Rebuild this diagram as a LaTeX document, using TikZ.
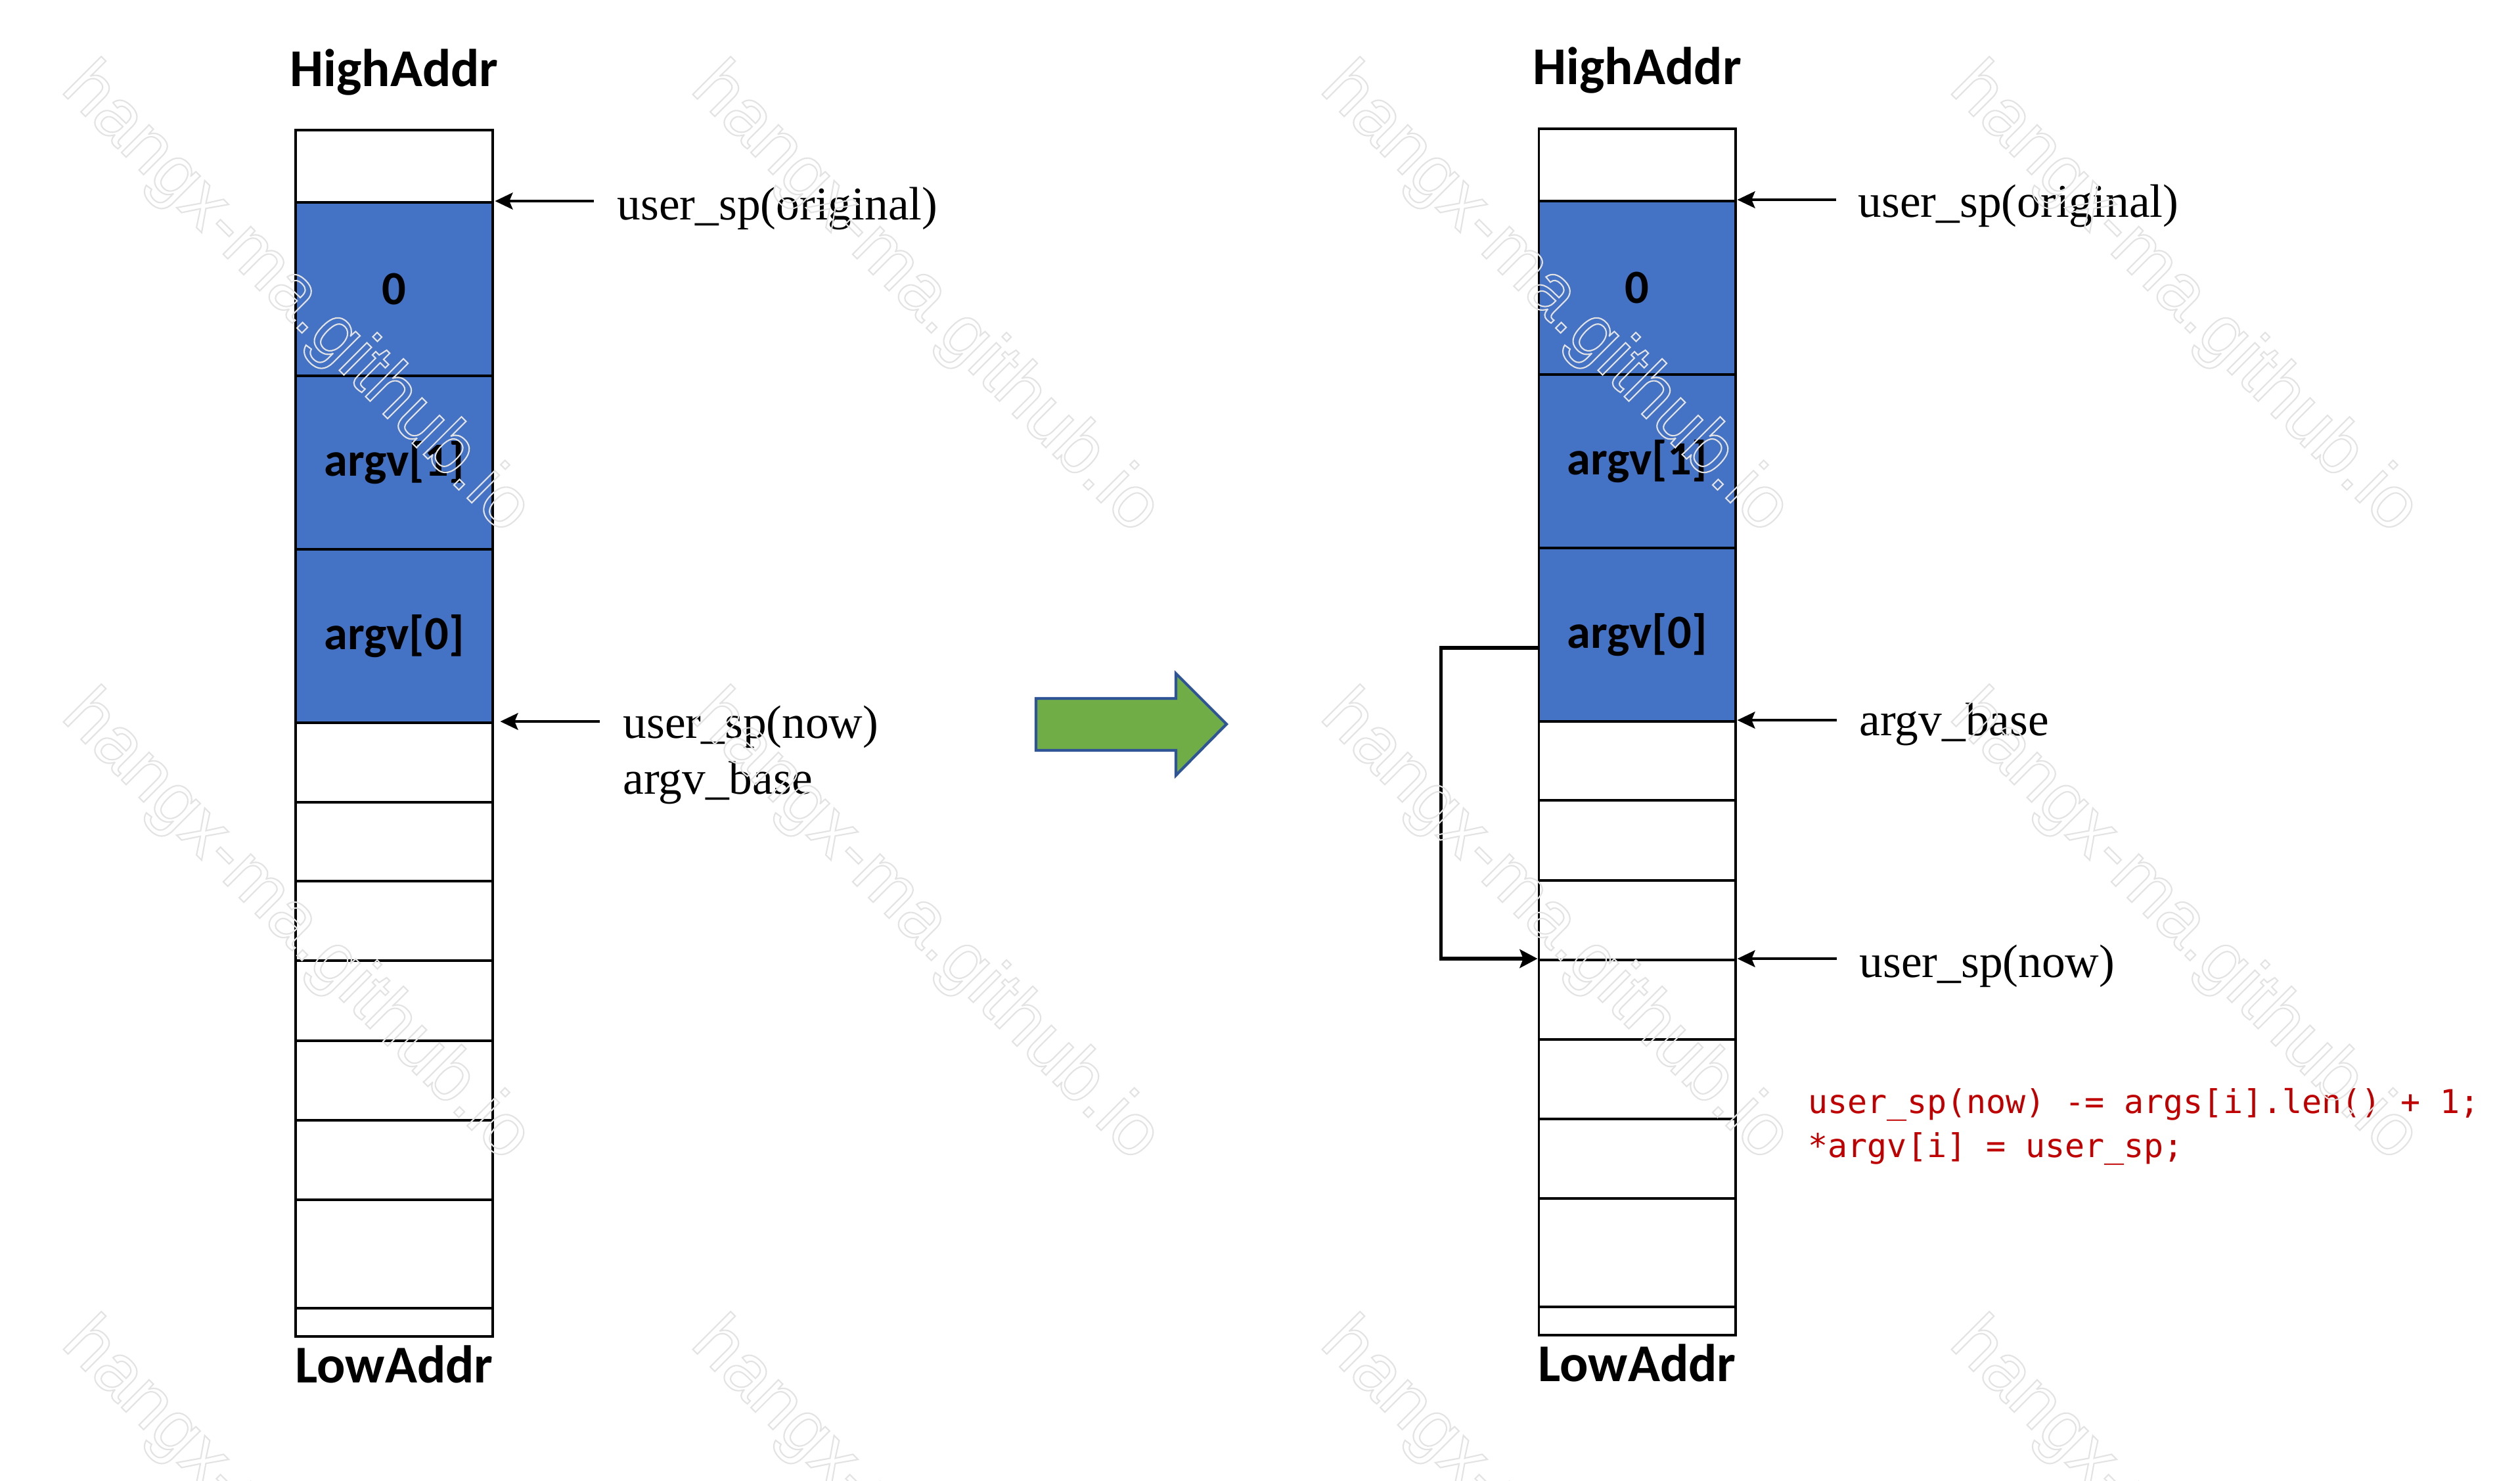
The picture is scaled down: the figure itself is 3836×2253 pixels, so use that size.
\documentclass[tikz,border=0pt]{standalone}
\usepackage{fontspec}
\setmainfont{Liberation Serif}
\newfontfamily\calfont{Carlito}
\newfontfamily\codefont{DejaVu Sans Mono}
\newfontfamily\wmfont{Liberation Sans}
\usetikzlibrary{arrows.meta,calc}
\definecolor{cellblue}{HTML}{4472C4}
\definecolor{arrowgreen}{HTML}{70AD47}
\definecolor{arrowedge}{HTML}{2F5597}
\definecolor{codered}{HTML}{C00000}
\newcommand{\wmout}[1]{\special{pdf:literal direct 1 Tr 0.6 w}#1\special{pdf:literal direct 0 Tr}}
\tikzset{
  cell/.style={draw=black, line width=1.1pt, fill=white, minimum width=2.99cm, inner sep=0pt,
    font=\calfont\bfseries\fontsize{20.6}{24}\selectfont},
  bluecell/.style={cell, fill=cellblue},
  addr/.style={font=\calfont\bfseries\fontsize{23}{27}\selectfont, inner sep=0pt, anchor=base},
  lbl/.style={font=\fontsize{20.3}{24}\selectfont, inner sep=0pt, anchor=base west},
  code/.style={font=\codefont\fontsize{14.2}{17}\selectfont, text=codered, inner sep=0pt, anchor=base west},
  ptr/.style={line width=0.95pt, -{Stealth[length=7.7pt,width=7.3pt,inset=1.5pt]}},
  brk/.style={line width=1.7pt, -{Stealth[length=7.7pt,width=8pt,inset=1.5pt]}},
  wm/.style={font=\wmfont\fontsize{32}{36}\selectfont, text=black!11, rotate=-45, inner sep=0pt}
}
\begin{document}
\begin{tikzpicture}[x=0.01cm,y=-0.01cm]
\useasboundingbox (0,0) rectangle (3836,2253);
\fill[white] (0,0) rectangle (3836,2253);
% ---------- left stack ----------
\node[addr] (LH) at (600,131) {HighAddr};
\node[cell, minimum height=1.10cm] (LA) at (600,253) {};
\node[bluecell, minimum height=2.64cm] (L0) at (600,440) {0};
\node[bluecell, minimum height=2.64cm] (L1) at (600,704) {argv[1]};
\node[bluecell, minimum height=2.64cm] (L2) at (600,968) {argv[0]};
\node[cell, minimum height=1.21cm] (L3) at (600,1160.5) {};
\node[cell, minimum height=1.20cm] (L4) at (600,1281) {};
\node[cell, minimum height=1.21cm] (L5) at (600,1401.5) {};
\node[cell, minimum height=1.22cm] (L6) at (600,1523) {};
\node[cell, minimum height=1.21cm] (L7) at (600,1644.5) {};
\node[cell, minimum height=1.21cm] (L8) at (600,1765.5) {};
\node[cell, minimum height=1.65cm] (L9) at (600,1908.5) {};
\node[cell, minimum height=0.43cm] (L10) at (600,2012.5) {};
\node[addr] (LL) at (600,2104) {LowAddr};
\node[lbl] (Lorig) at (939,334) {user\_sp(original)};
\node[lbl] (Lnow) at (948,1123) {user\_sp(now)};
\node[lbl] (Lbase) at (948,1208) {argv\_base};
\draw[ptr] ($(Lorig.west |- L0.north)+(-35,0)$) -- ($(L0.north east)+(2,0)$);
\draw[ptr] ($(Lnow.west |- L3.north)+(-35,0)$) -- ($(L3.north east)+(10,0)$);
% ---------- green arrow ----------
\draw[line width=1.2pt, draw=arrowedge, fill=arrowgreen, line join=miter]
  (1577,1063) -- (1790,1063) -- (1790,1025) -- (1867,1102) -- (1790,1180) -- (1790,1142) -- (1577,1142) -- cycle;
% ---------- right stack ----------
\node[addr] (RH) at (2492,128) {HighAddr};
\node[cell, minimum height=1.10cm] (RA) at (2492,251) {};
\node[bluecell, minimum height=2.64cm] (R0) at (2492,438) {0};
\node[bluecell, minimum height=2.64cm] (R1) at (2492,702) {argv[1]};
\node[bluecell, minimum height=2.64cm] (R2) at (2492,966) {argv[0]};
\node[cell, minimum height=1.20cm] (R3) at (2492,1158) {};
\node[cell, minimum height=1.22cm] (R4) at (2492,1279) {};
\node[cell, minimum height=1.21cm] (R5) at (2492,1400.5) {};
\node[cell, minimum height=1.21cm] (R6) at (2492,1521.5) {};
\node[cell, minimum height=1.21cm] (R7) at (2492,1642.5) {};
\node[cell, minimum height=1.21cm] (R8) at (2492,1763.5) {};
\node[cell, minimum height=1.65cm] (R9) at (2492,1906.5) {};
\node[cell, minimum height=0.43cm] (R10) at (2492,2010.5) {};
\node[addr] (RL) at (2492,2102) {LowAddr};
\node[lbl] (Rorig) at (2828,330) {user\_sp(original)};
\node[lbl] (Rbase) at (2830,1119) {argv\_base};
\node[lbl] (Rnow) at (2830,1487) {user\_sp(now)};
\draw[ptr] ($(Rorig.west |- R0.north)+(-33,0)$) -- ($(R0.north east)+(1,0)$);
\draw[ptr] ($(Rbase.west |- R3.north)+(-34,0)$) -- ($(R3.north east)+(1,0)$);
\draw[ptr] ($(Rnow.west |- R6.north)+(-34,0)$) -- ($(R6.north east)+(1,0)$);
\draw[brk] ($(R2.west)+(0,20)$) -- ++(-147,0) |- (R6.north west);
\node[code] (C1) at (2752,1694) {user\_sp(now) -= args[i].len() + 1;};
\node[code] (C2) at (2752,1761) {*argv[i] = user\_sp;};
% ---------- watermarks ----------
\begin{scope}
\clip (0,0) rectangle (3836,2253);
\foreach \k in {0,1,2,3}{
  \foreach \m in {0,1,2}{
    \node[wm] (W\k\m) at ({450+958*\k},{456+955*\m}) {\wmout{hangx-ma.github.io}};
  }
}
\end{scope}
\end{tikzpicture}
\end{document}
